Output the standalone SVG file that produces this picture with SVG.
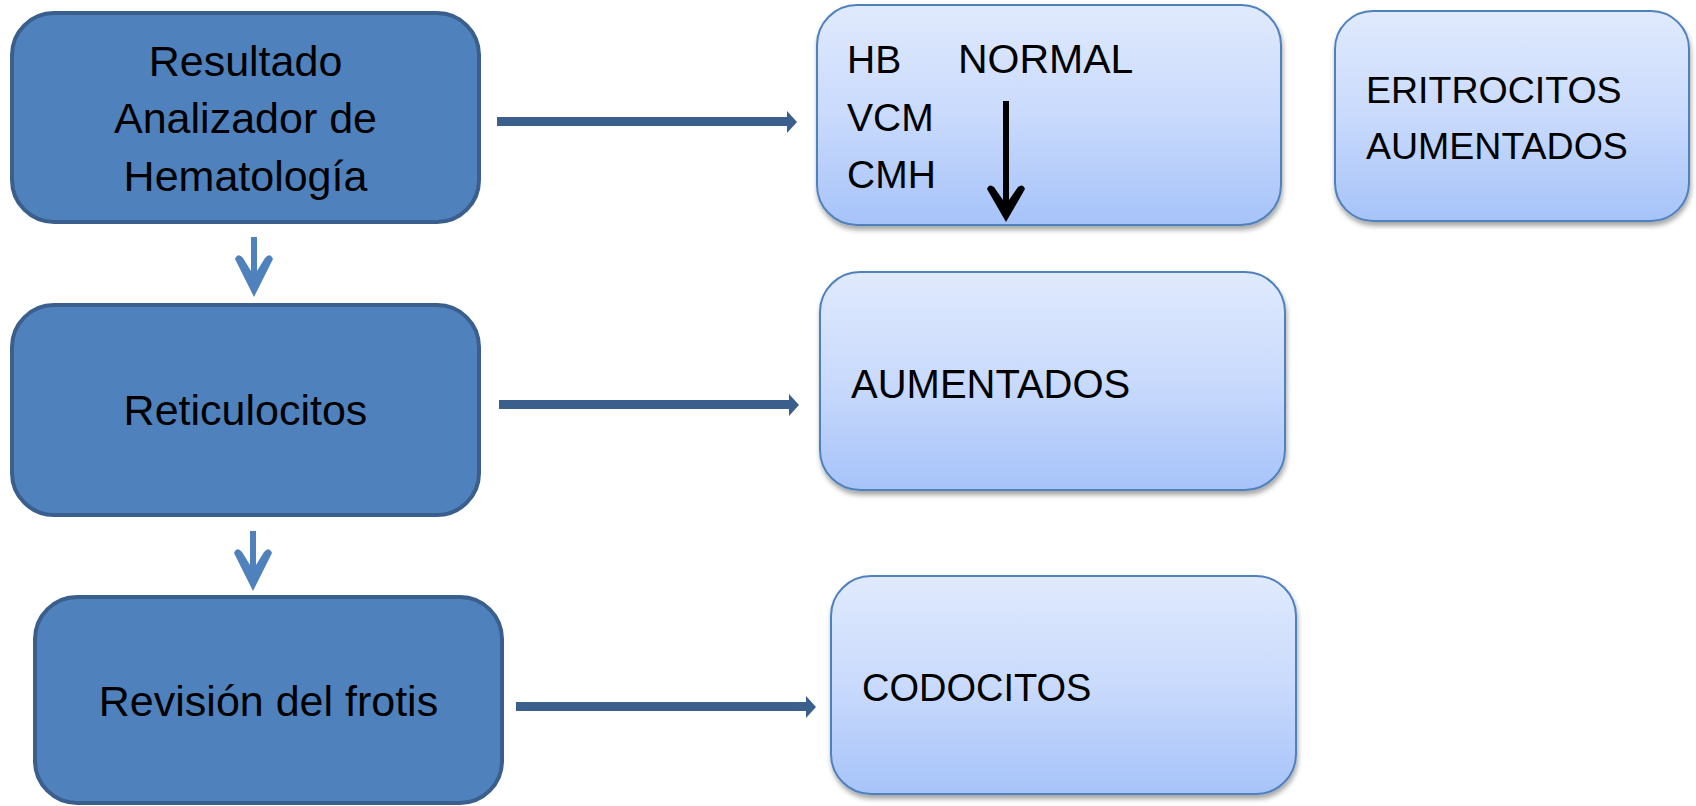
<svg xmlns="http://www.w3.org/2000/svg" width="1696" height="806" viewBox="0 0 1696 806">
<defs>
<linearGradient id="lg" x1="0" y1="0" x2="0" y2="1">
<stop offset="0" stop-color="#E0EAFD"/>
<stop offset="0.5" stop-color="#C9DAFC"/>
<stop offset="1" stop-color="#A6C3F9"/>
</linearGradient>
<filter id="sh" x="-10%" y="-10%" width="120%" height="130%">
<feDropShadow dx="1" dy="4" stdDeviation="2.5" flood-color="#000" flood-opacity="0.35"/>
</filter>
</defs>
<style>
.dark{fill:#4F81BD;stroke:#3A5F8D;stroke-width:4}
.light{fill:url(#lg);stroke:#4F81BD;stroke-width:2;filter:url(#sh)}
.t{font-family:"Liberation Sans",Arial,sans-serif;fill:#000}
.tl{font-size:43px;text-anchor:middle}
.tr{font-size:39px}
.h{fill:#3A5F8D}
.v{fill:#4F81BD}
</style>
<rect width="1696" height="806" fill="#fff"/>
<g id="node-resultado">
<rect class="dark" x="12" y="13" width="467" height="209" rx="42"/>
<text class="t tl" x="245.5" y="76">Resultado</text>
<text class="t tl" x="245.5" y="133">Analizador de</text>
<text class="t tl" x="245.5" y="191">Hematología</text>
</g>
<g id="node-reticulocitos">
<rect class="dark" x="12" y="305" width="467" height="210" rx="42"/>
<text class="t tl" x="245.5" y="425">Reticulocitos</text>
</g>
<g id="node-frotis">
<rect class="dark" x="35" y="597" width="467" height="206" rx="42"/>
<text class="t tl" x="268.5" y="716">Revisión del frotis</text>
</g>
<g id="node-hb">
<rect class="light" x="817" y="5" width="464" height="220" rx="40"/>
<text class="t tr" x="847" y="73">HB</text>
<text class="t tr" x="958" y="73" style="font-size:41px">NORMAL</text>
<text class="t tr" x="847" y="131">VCM</text>
<text class="t tr" x="847" y="188">CMH</text>
<path d="M1003,101 H1009 V200 L1018,187 Q1023,183 1025,189 L1006,222 L987,189 Q989,183 994,187 L1003,200 Z" fill="#000"/>
</g>
<g id="node-eritrocitos">
<rect class="light" x="1335" y="11" width="354" height="210" rx="38"/>
<text class="t tr" x="1366" y="103" style="font-size:37.5px">ERITROCITOS</text>
<text class="t tr" x="1366" y="159" style="font-size:37.5px">AUMENTADOS</text>
</g>
<g id="node-aumentados">
<rect class="light" x="820" y="272" width="465" height="218" rx="40"/>
<text class="t tr" x="851" y="398" style="font-size:40px">AUMENTADOS</text>
</g>
<g id="node-codocitos">
<rect class="light" x="831" y="576" width="465" height="218" rx="40"/>
<text class="t tr" x="862" y="701" style="font-size:38px">CODOCITOS</text>
</g>
<g id="connectors">
<path class="h" d="M497,117 H787 V111 L797,122 L787,133 V126 H497 Z"/>
<path class="h" d="M499,400 H789 V394 L799,405 L789,416 V409 H499 Z"/>
<path class="h" d="M516,702 H806 V696 L816,707 L806,718 V711 H516 Z"/>
<path class="v" d="M251,237 H257 V271 L265,258 Q270,252 273,259 L254,297 L235,259 Q238,252 243,258 L251,271 Z"/>
<path class="v" d="M250,531 H256 V565 L264,552 Q269,546 272,553 L253,591 L234,553 Q237,546 242,552 L250,565 Z"/>
</g>
</svg>
